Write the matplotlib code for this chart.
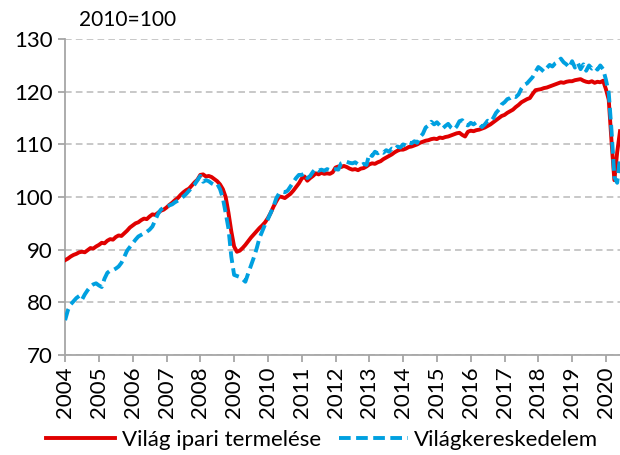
import numpy as np
import matplotlib
matplotlib.use("Agg")
import matplotlib.pyplot as plt

plt.rcParams['font.family'] = ['Lato', 'DejaVu Sans']

# monthly values, Jan 2004 - Jun 2020 (2010=100)
ipari = [
    88.0, 88.3, 88.7, 89.0, 89.2, 89.5, 89.6, 89.5, 89.9, 90.3, 90.2, 90.6,  # 2004
    90.9, 91.3, 91.2, 91.7, 92.0, 91.9, 92.4, 92.7, 92.6, 93.1, 93.6, 94.2,  # 2005
    94.6, 95.0, 95.2, 95.6, 95.9, 95.8, 96.3, 96.7, 96.6, 97.0, 97.4, 97.6,  # 2006
    98.0, 98.5, 98.9, 99.4, 99.8, 100.4, 100.9, 101.3, 101.6, 102.2, 102.8, 103.3,  # 2007
    104.2, 104.3, 103.9, 104.0, 103.8, 103.4, 103.0, 102.4, 101.5, 100.0, 97.0, 93.5,  # 2008
    90.6, 89.6, 89.8, 90.3, 90.9, 91.6, 92.3, 92.9, 93.5, 94.1, 94.6, 95.2,  # 2009
    96.0, 97.0, 98.2, 99.2, 100.1, 100.0, 99.8, 100.2, 100.6, 101.2, 101.9, 102.6,  # 2010
    103.5, 103.9, 103.1, 103.6, 104.0, 104.5, 104.3, 104.6, 104.4, 104.5, 104.4, 104.7,  # 2011
    105.6, 105.8, 105.7, 105.9, 105.7, 105.4, 105.2, 105.3, 105.1, 105.4, 105.5, 105.8,  # 2012
    106.2, 106.4, 106.3, 106.6, 106.8, 107.2, 107.5, 107.8, 108.1, 108.5, 108.8, 109.0,  # 2013
    109.0, 109.2, 109.5, 109.6, 109.8, 110.0, 110.3, 110.5, 110.7, 110.8, 111.0, 111.1,  # 2014
    111.0, 111.3, 111.2, 111.4, 111.5, 111.7, 111.9, 112.1, 112.2, 111.8, 111.5, 112.4,  # 2015
    112.6, 112.5, 112.7, 112.8, 113.0, 113.2, 113.5, 113.8, 114.2, 114.6, 115.0, 115.4,  # 2016
    115.6, 116.0, 116.3, 116.6, 117.1, 117.5, 118.0, 118.3, 118.6, 118.8, 119.6, 120.3,  # 2017
    120.4, 120.5, 120.7, 120.8, 121.0, 121.2, 121.4, 121.6, 121.8, 121.7, 121.9, 122.0,  # 2018
    122.0, 122.2, 122.3, 122.4, 122.1, 121.9, 121.8, 122.0, 121.7, 121.9, 121.8, 122.1,  # 2019
    120.5, 118.5, 110.5, 103.2, 108.5, 112.5,  # 2020
]

kereskedelem = [
    76.6, 78.5, 79.6, 80.2, 80.8, 81.2, 80.5, 81.5, 82.3, 83.0, 83.4, 83.6,  # 2004
    83.2, 82.9, 84.5, 85.6, 86.0, 86.1, 86.4, 86.8, 87.5, 88.6, 89.8, 90.5,  # 2005
    91.2, 91.9, 92.5, 92.8, 93.1, 93.4, 93.8, 94.4, 95.6, 96.8, 97.6, 98.0,  # 2006
    98.2, 98.4, 98.6, 99.0, 99.3, 99.6, 100.1, 100.6, 101.2, 101.8, 102.4, 103.2,  # 2007
    104.0, 102.9, 103.2, 103.0, 102.6, 102.3, 102.5, 101.5, 99.8, 97.0, 94.0, 88.7,  # 2008
    85.2, 85.0, 84.8, 84.4, 83.9, 85.5, 87.0, 88.5, 90.2, 92.2, 93.5, 94.8,  # 2009
    95.8, 97.0, 98.2, 99.8, 100.7, 101.0, 100.9, 101.2, 102.0, 102.8, 103.6, 104.2,  # 2010
    104.2, 104.5, 103.6, 104.0, 104.8, 105.4, 105.0, 105.2, 105.0, 105.3, 105.1, 105.2,  # 2011
    105.3, 105.2, 106.4, 106.6, 106.7, 106.5, 106.4, 106.6, 106.2, 106.0, 106.3, 106.1,  # 2012
    108.2, 107.8, 108.6, 108.3, 108.7, 108.4, 108.9, 108.6, 109.2, 109.0, 109.6, 109.4,  # 2013
    110.0, 109.8, 110.4, 110.2, 110.6, 110.3, 111.4, 112.0, 113.2, 113.6, 114.3, 113.8,  # 2014
    114.2, 113.6, 113.0, 113.5, 113.9, 113.2, 112.8, 113.4, 114.4, 114.6, 113.8, 113.6,  # 2015
    114.1, 113.8, 114.2, 113.9, 113.3, 113.8, 114.5, 114.3, 115.0, 116.0, 116.6, 117.6,  # 2016
    118.0, 118.6, 118.8, 119.2, 119.0, 119.5, 120.6, 121.3, 121.6, 122.2, 122.8, 123.8,  # 2017
    124.7, 124.3, 123.8, 124.5, 125.1, 124.8, 125.4, 125.7, 126.3, 125.6, 125.2, 124.6,  # 2018
    125.8, 124.6, 125.5, 124.3, 125.2, 124.0, 125.0, 124.4, 124.8, 124.2, 125.0, 124.3,  # 2019
    122.3, 119.8, 112.5, 103.8, 102.7, 107.5,  # 2020
]

years = list(range(2004, 2021))
nev_ipari = "Világ ipari termelése"
nev_keresk = "Világkereskedelem"

t = 2004 + np.arange(len(ipari)) / 12.0

fig = plt.figure(figsize=(6.2, 4.55), dpi=100)
ax = fig.add_axes([0.105, 0.22, 0.895, 0.694])

ax.plot(t, ipari, color='#E00000', lw=2.8, label=nev_ipari, zorder=3)
ax.plot(t, kereskedelem, color='#00A0E0', lw=2.8, ls=(0, (3.0, 1.4)),
        label=nev_keresk, zorder=4)

ax.set_xlim(2004, t[-1])
ax.set_ylim(70, 130)
ax.set_yticks(range(70, 131, 10))
ax.set_xticks(years)
ax.set_xticklabels([str(y) for y in years], rotation=90)

ax.grid(axis='y', color='#BFBFBF', ls=(0, (4, 2.5)), lw=1.2)
ax.set_axisbelow(True)
for s in ['top', 'right']:
    ax.spines[s].set_visible(False)
for s in ['left', 'bottom']:
    ax.spines[s].set_color('#A6A6A6')
    ax.spines[s].set_linewidth(1.3)
ax.tick_params(axis='both', colors='#A6A6A6', length=5, width=1.3,
               labelcolor='black', labelsize=16)
ax.tick_params(axis='y', pad=4)
ax.tick_params(axis='x', pad=3)

fig.text(0.128, 0.957, "2010=100", fontsize=15, ha='left', va='center')

fig.legend(loc='center', bbox_to_anchor=(0.52, 0.033), ncol=2, frameon=False,
           fontsize=16, handlelength=3.1, columnspacing=0.8, handletextpad=0.3)

fig.savefig("out.png", dpi=100)
